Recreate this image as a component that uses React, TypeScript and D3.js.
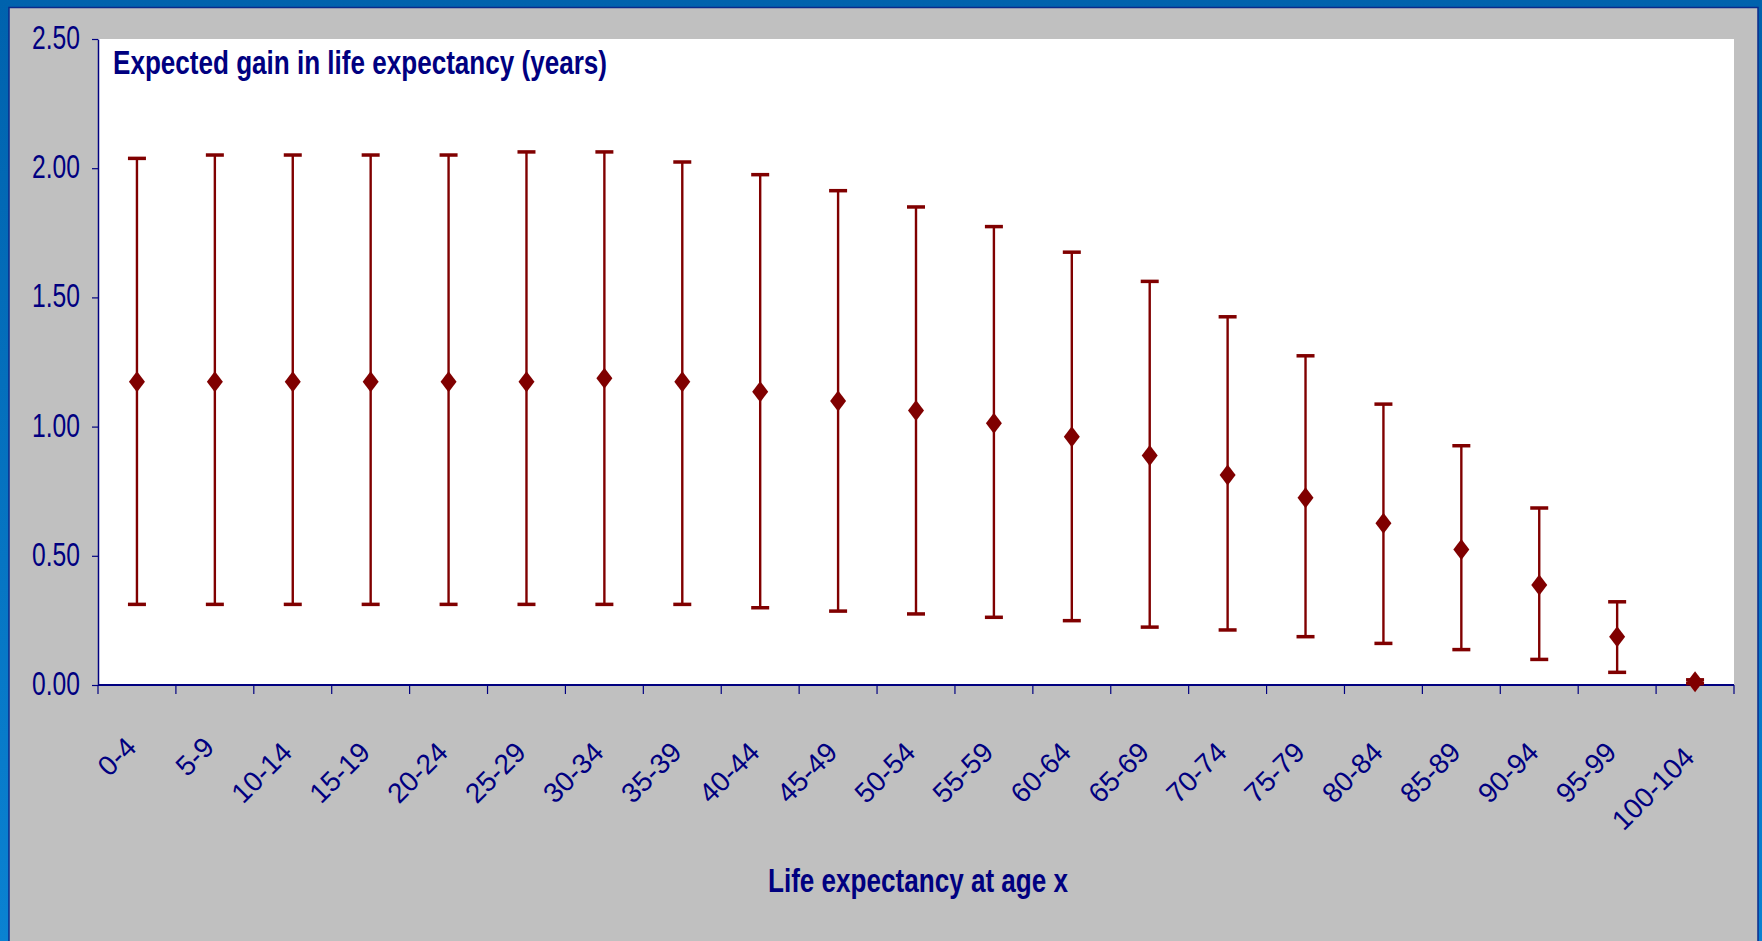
import { useEffect, useRef } from 'react';
import * as d3 from 'd3';

// age groups and the expected gain (mean with lower / upper bound)
const categories = ['0-4', '5-9', '10-14', '15-19', '20-24', '25-29', '30-34', '35-39', '40-44', '45-49',
  '50-54', '55-59', '60-64', '65-69', '70-74', '75-79', '80-84', '85-89', '90-94', '95-99', '100-104'];
const means = [1.174, 1.174, 1.174, 1.174, 1.174, 1.174, 1.187, 1.174, 1.135, 1.099,
  1.062, 1.013, 0.961, 0.888, 0.813, 0.725, 0.626, 0.524, 0.387, 0.187, 0.013];
const upper = [2.038, 2.051, 2.051, 2.051, 2.051, 2.063, 2.063, 2.024, 1.975, 1.913,
  1.850, 1.774, 1.675, 1.562, 1.425, 1.274, 1.087, 0.926, 0.685, 0.322, 0.02];
const lower = [0.312, 0.312, 0.312, 0.312, 0.312, 0.312, 0.312, 0.312, 0.299, 0.286,
  0.275, 0.262, 0.249, 0.224, 0.213, 0.187, 0.161, 0.137, 0.099, 0.049, 0.005];
const yTicks = [0, 0.5, 1, 1.5, 2, 2.5];

const W = 1762;
const H = 941;
const NAVY = '#000080';
const RED = '#800000';
const FONT = '"Liberation Sans", Arial, sans-serif';

const App = () => {
  const svgRef = useRef<SVGSVGElement | null>(null);

  useEffect(() => {
    const svg = d3.select(svgRef.current);
    svg.selectAll('*').remove();

    const plot = { left: 98, right: 1734, top: 39, bottom: 685 };

    const defs = svg.append('defs');
    const grad = defs.append('linearGradient')
      .attr('id', 'frame-grad')
      .attr('x1', 0).attr('y1', 0).attr('x2', 0).attr('y2', 1);
    grad.append('stop').attr('offset', '0%').attr('stop-color', '#0062ad');
    grad.append('stop').attr('offset', '100%').attr('stop-color', '#0a82d2');

    // blue slide frame + grey chart area
    svg.append('rect').attr('width', W).attr('height', H).attr('fill', 'url(#frame-grad)');
    svg.append('rect')
      .attr('x', 9).attr('y', 7.5)
      .attr('width', 1749).attr('height', H)
      .attr('fill', '#c0c0c0')
      .attr('stroke', '#0a2a8a')
      .attr('stroke-width', 1.5);
    svg.append('rect')
      .attr('x', plot.left).attr('y', plot.top)
      .attr('width', plot.right - plot.left).attr('height', plot.bottom - plot.top)
      .attr('fill', '#ffffff');

    const x = d3.scaleBand<string>()
      .domain(categories)
      .range([plot.left, plot.right])
      .padding(0);

    const y = d3.scaleLinear()
      .domain([0, 2.5])
      .range([plot.bottom, plot.top]);

    // y axis
    const yAxis = svg.append('g')
      .attr('transform', `translate(${plot.left},0)`)
      .call(d3.axisLeft(y).tickValues(yTicks).tickSize(6).tickSizeOuter(0).tickFormat(() => ''));
    yAxis.select('.domain').attr('stroke', NAVY).attr('stroke-width', 1.5);
    yAxis.selectAll('.tick line').attr('stroke', NAVY).attr('stroke-width', 1.2);

    svg.append('g')
      .selectAll('text')
      .data(yTicks)
      .enter()
      .append('text')
      .attr('x', 80)
      .attr('y', d => y(d) + 10)
      .attr('text-anchor', 'end')
      .attr('font-family', FONT)
      .attr('font-size', 33)
      .attr('fill', NAVY)
      .attr('textLength', 48)
      .attr('lengthAdjust', 'spacingAndGlyphs')
      .text(d => d3.format('.2f')(d));

    // x axis: ticks on the category boundaries
    const bounds = categories.map(c => x(c) as number).concat([plot.right]);
    svg.append('g')
      .selectAll('line')
      .data(bounds)
      .enter()
      .append('line')
      .attr('x1', d => d).attr('x2', d => d)
      .attr('y1', plot.bottom).attr('y2', plot.bottom + 9)
      .attr('stroke', NAVY)
      .attr('stroke-width', 1.2);
    svg.append('line')
      .attr('x1', plot.left).attr('x2', plot.right)
      .attr('y1', plot.bottom).attr('y2', plot.bottom)
      .attr('stroke', NAVY)
      .attr('stroke-width', 2);

    // rotated category labels, text end sits under the category centre
    svg.append('g')
      .selectAll('text')
      .data(categories)
      .enter()
      .append('text')
      .attr('text-anchor', 'end')
      .attr('font-family', FONT)
      .attr('font-size', 28)
      .attr('fill', NAVY)
      .text(d => d)
      .each(function (d) {
        const len = (this as SVGTextElement).getComputedTextLength();
        const ex = (x(d) as number) + x.bandwidth() / 2 + 1;
        const ey = plot.bottom + 64 + 0.16 * (len - 40);
        d3.select(this).attr('transform', `translate(${ex},${ey}) rotate(-45)`);
      });

    // error bars
    const cx = (d: string) => (x(d) as number) + x.bandwidth() / 2;
    const bars = svg.append('g');
    categories.forEach((c, i) => {
      bars.append('line')
        .attr('x1', cx(c)).attr('x2', cx(c))
        .attr('y1', y(lower[i])).attr('y2', y(upper[i]))
        .attr('stroke', RED)
        .attr('stroke-width', 2.4);
      [lower[i], upper[i]].forEach(v => {
        bars.append('line')
          .attr('x1', cx(c) - 9).attr('x2', cx(c) + 9)
          .attr('y1', y(v)).attr('y2', y(v))
          .attr('stroke', RED)
          .attr('stroke-width', 3.5);
      });
    });

    // diamond markers
    svg.append('g')
      .selectAll('path')
      .data(categories)
      .enter()
      .append('path')
      .attr('d', (d, i) => {
        const px = cx(d);
        const py = y(means[i]);
        return `M${px},${py - 10.5}L${px + 8},${py}L${px},${py + 10.5}L${px - 8},${py}Z`;
      })
      .attr('fill', RED);

    // titles
    svg.append('text')
      .attr('x', 113)
      .attr('y', 74)
      .attr('font-family', FONT)
      .attr('font-weight', 'bold')
      .attr('font-size', 33)
      .attr('fill', NAVY)
      .attr('textLength', 494)
      .attr('lengthAdjust', 'spacingAndGlyphs')
      .text('Expected gain in life expectancy (years)');

    svg.append('text')
      .attr('x', 768)
      .attr('y', 892)
      .attr('font-family', FONT)
      .attr('font-weight', 'bold')
      .attr('font-size', 33)
      .attr('fill', NAVY)
      .attr('textLength', 300)
      .attr('lengthAdjust', 'spacingAndGlyphs')
      .text('Life expectancy at age x');
  }, []);

  return (
    <div style={{ position: 'absolute', left: 0, top: 0, width: W, height: H, overflow: 'hidden' }}>
      <svg ref={svgRef} width={W} height={H} style={{ display: 'block' }} />
    </div>
  );
};

export default App;
